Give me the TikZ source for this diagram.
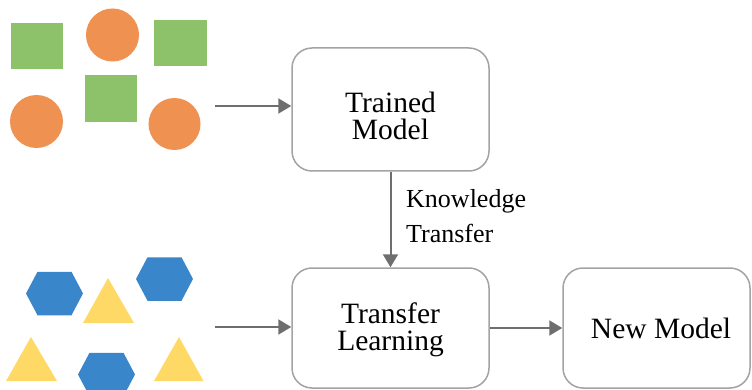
\documentclass[tikz,border=0pt]{standalone}
\usepackage{fontspec}
\setmainfont{Liberation Serif}
\usetikzlibrary{arrows.meta}
\definecolor{sqgreen}{HTML}{8DC26A}
\definecolor{circorange}{HTML}{EF9150}
\definecolor{hexblue}{HTML}{3A86CB}
\definecolor{triyellow}{HTML}{FFD966}
\definecolor{boxgray}{HTML}{A3A3A3}
\definecolor{arrgray}{HTML}{6E6E6E}
\tikzset{
  box/.style={draw=boxgray, line width=1.5pt, rounded corners=20pt, inner sep=0pt, fill=white},
  boxtext/.style={inner sep=0pt, align=center, font=\fontsize{29.5}{27}\selectfont, text=black},
  labeltext/.style={inner sep=0pt, align=left, font=\fontsize{26}{35}\selectfont, text=black, anchor=west},
  conn/.style={draw=arrgray, line width=2pt, -{Triangle[length=13pt,width=15pt]}},
  sq/.style={fill=sqgreen},
  circ/.style={fill=circorange},
  hexa/.style={fill=hexblue},
  tri/.style={fill=triyellow}
}
\newcommand\myhex[2]{\fill[hexa] (#1-28.5,#2) -- (#1-17,#2-21.75) -- (#1+17,#2-21.75) -- (#1+28.5,#2) -- (#1+17,#2+21.75) -- (#1-17,#2+21.75) -- cycle;}
\begin{document}
\begin{tikzpicture}[x=1pt,y=-1pt]
\useasboundingbox (0,0) rectangle (752,390);
% source shapes (top)
\fill[sq] (11,23) rectangle (63,69);
\fill[sq] (154,20) rectangle (207,66);
\fill[sq] (85,75) rectangle (137,122);
\fill[circ] (112.5,35) circle[radius=26.5];
\fill[circ] (36.5,121.5) circle[radius=26.5];
\fill[circ] (174.5,124) circle[radius=26];
% target shapes (bottom)
\myhex{54.5}{293.5}
\myhex{164.5}{279}
\myhex{106.5}{374.5}
\fill[tri] (108,278) -- (134,323) -- (83,323) -- cycle;
\fill[tri] (31,337) -- (57,381) -- (6,381) -- cycle;
\fill[tri] (179,337) -- (203.5,381) -- (154,381) -- cycle;
% boxes
\node[box, minimum width=197pt, minimum height=123pt] (trained) at (390.5,109.5) {};
\node[box, minimum width=197pt, minimum height=120pt] (transfer) at (390.5,328) {};
\node[box, minimum width=187pt, minimum height=120pt] (newmodel) at (656.5,328) {};
\node[boxtext] (ttrained) at (390.5,115.5) {Trained\\Model};
\node[boxtext] (ttransfer) at (390.5,329.5) {Transfer\\Learning};
\node[boxtext] (tnew) at (661,328) {New Model};
\node[labeltext] (tknow) at (406,216.6) {Knowledge\\Transfer};
% connectors
\coordinate (src1) at (215,106);
\coordinate (src2) at (215,327);
\draw[conn] (src1) -- (trained.west |- src1);
\draw[conn] (src2) -- (transfer.west |- src2);
\draw[conn] (trained.south) -- (transfer.north);
\draw[conn] (transfer.east) -- (newmodel.west);
\end{tikzpicture}
\end{document}
